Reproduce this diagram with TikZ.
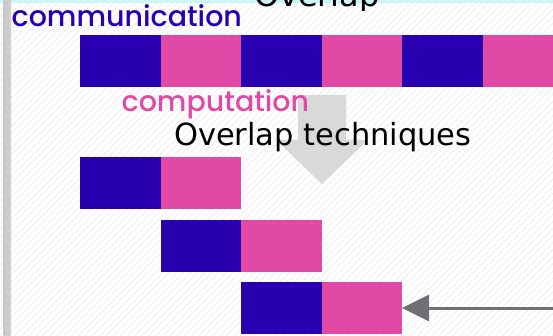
\documentclass[tikz,border=0pt]{standalone}
\usepackage{fontspec}
\setmainfont{DejaVu Sans}
\newfontfamily\popfont{Poppins Medium}
\usetikzlibrary{arrows.meta,patterns.meta}
\definecolor{commblue}{RGB}{40,0,176}
\definecolor{comppink}{RGB}{224,74,166}
\definecolor{lgrayarrow}{RGB}{217,217,217}
\definecolor{darkarrow}{RGB}{110,112,115}
\definecolor{cyanband}{RGB}{204,245,245}
\tikzset{
  blk/.style={minimum width=80.5pt, minimum height=52pt, inner sep=0pt, outer sep=0pt, anchor=north west},
  commblk/.style={blk, fill=commblue},
  compblk/.style={blk, fill=comppink},
  lbl/.style={inner sep=0pt, outer sep=0pt, anchor=base west},
  poplbl/.style={lbl, font=\popfont\fontsize{28.5}{28.5}\selectfont},
}
\begin{document}
\begin{tikzpicture}[x=1pt,y=-1pt]
\useasboundingbox (0,0) rectangle (553,336);
\clip (0,0) rectangle (553,336);
% background
\fill[white] (0,0) rectangle (553,336);
\fill[pattern={Lines[angle=45,distance=5pt,line width=1.2pt]}, pattern color=black!5] (0,0) rectangle (553,336);
\fill[cyanband] (0,0) rectangle (553,3.5);
\begin{scope}
  \clip (11,0) rectangle (553,10.5);
  \node[lbl, font=\fontsize{32}{32}\selectfont] (title) at (254,7) {Overlap};
\end{scope}
\shade[left color=black!22, middle color=black!8, right color=black!18] (3.3,0) rectangle (11,336);
% row 1
\node[commblk] (a1) at (80,35) {};
\node[compblk] (a2) at (160.5,35) {};
\node[commblk] (a3) at (241,35) {};
\node[compblk] (a4) at (321.5,35) {};
\node[commblk] (a5) at (402,35) {};
\node[compblk] (a6) at (482.5,35) {};
% rows 2-4
\node[commblk] (b1) at (80,157) {};
\node[compblk] (b2) at (160.5,157) {};
\node[commblk] (c1) at (160.5,220) {};
\node[compblk] (c2) at (241,220) {};
\node[commblk] (d1) at (241,282) {};
\node[compblk] (d2) at (321.5,282) {};
% block arrow
\fill[lgrayarrow] (298,95) -- (346,95) -- (346,140) -- (368,140) -- (322,184) -- (276,140) -- (298,140) -- cycle;
% labels
\node[poplbl, text=commblue] (comm) at (11.7,26.7) {communication};
\node[poplbl, text=comppink] (comp) at (121.7,112) {computation};
\node[lbl, font=\fontsize{30.5}{30.5}\selectfont] (tech) at (174,145.5) {Overlap techniques};
% pointer arrow
\coordinate (pstart) at (553,308);
\draw[darkarrow, line width=3pt, -{Triangle[length=27pt,width=26pt]}] (pstart) -- (d2.east);
\end{tikzpicture}
\end{document}
